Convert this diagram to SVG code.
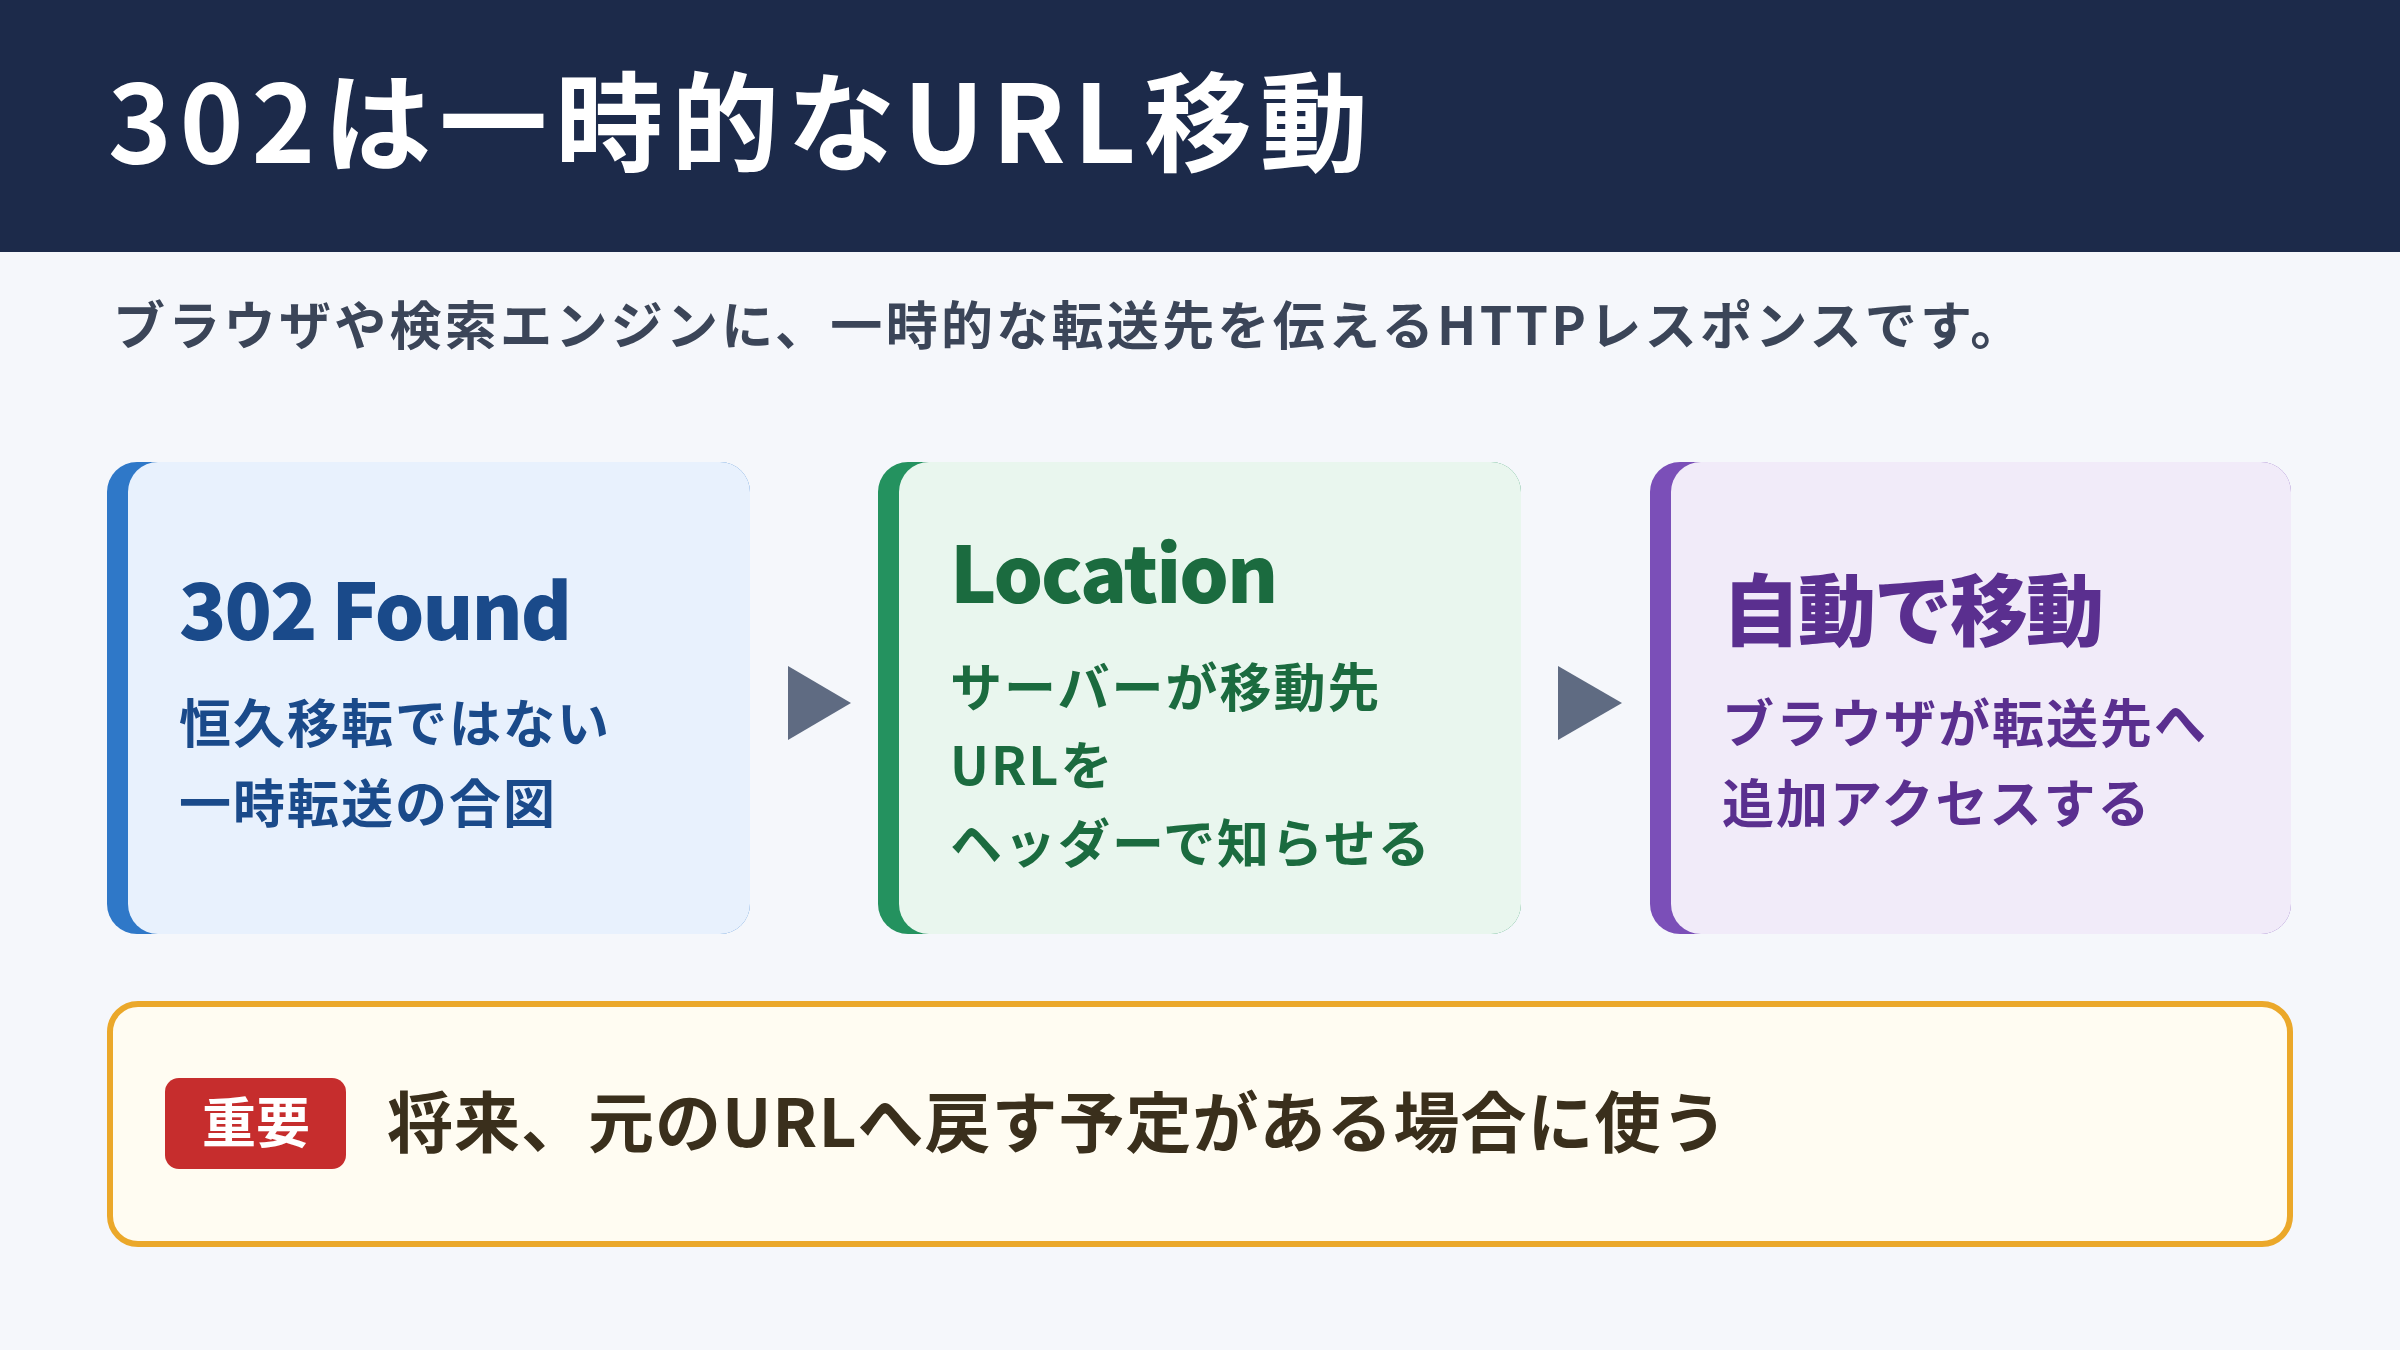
<svg xmlns="http://www.w3.org/2000/svg" width="2400" height="1350" viewBox="0 0 2400 1350">
<style>
text{font-family:"Noto Sans CJK JP","Noto Sans",sans-serif;font-weight:700}
.t{font-size:78px;font-weight:900;letter-spacing:-2px}
.b{font-size:52px;letter-spacing:2px}
</style>
<rect width="2400" height="1350" fill="#f5f7fb"/>
<rect width="2400" height="252" fill="#1c2a4a"/>
<text x="108" y="163" font-size="108" fill="#fff" font-weight="900" letter-spacing="8">302は一時的なURL移動</text>
<text x="113" y="345" font-size="52" fill="#3b4558" letter-spacing="3.3">ブラウザや検索エンジンに、一時的な転送先を伝えるHTTPレスポンスです。</text>
<g id="card1">
<rect x="107" y="462" width="643" height="472" rx="30" fill="#2f78c8"/>
<rect x="128" y="462" width="622" height="472" rx="30" fill="#e8f1fd"/>
<text x="179" y="640" class="t" fill="#1a4a8a">302 Found</text>
<text x="179" y="743" class="b" fill="#1a4a8a">恒久移転ではない</text>
<text x="179" y="823" class="b" fill="#1a4a8a">一時転送の合図</text>
</g>
<g id="card2">
<rect x="878" y="462" width="643" height="472" rx="30" fill="#24925f"/>
<rect x="899" y="462" width="622" height="472" rx="30" fill="#e9f6ee"/>
<text x="950" y="603" class="t" fill="#1b6b3f">Location</text>
<text x="950" y="707" class="b" fill="#1b6b3f">サーバーが移動先</text>
<text x="950" y="785" class="b" fill="#1b6b3f">URLを</text>
<text x="950" y="863" class="b" fill="#1b6b3f">ヘッダーで知らせる</text>
</g>
<g id="card3">
<rect x="1650" y="462" width="641" height="472" rx="30" fill="#7b4fb8"/>
<rect x="1671" y="462" width="620" height="472" rx="30" fill="#f1ebf9"/>
<text x="1722" y="640" class="t" fill="#5a2f8f">自動で移動</text>
<text x="1722" y="743" class="b" fill="#5a2f8f">ブラウザが転送先へ</text>
<text x="1722" y="823" class="b" fill="#5a2f8f">追加アクセスする</text>
</g>
<g id="connectors" fill="#5f6b82">
<polygon points="788,666 851,703 788,740"/>
<polygon points="1558,666 1622,703 1558,740"/>
</g>
<g id="note">
<rect x="110" y="1004" width="2180" height="240" rx="28" fill="#fffcf2" stroke="#eba82a" stroke-width="6"/>
<rect x="165" y="1078" width="181" height="91" rx="14" fill="#c62d2d"/>
<text x="256" y="1143" font-size="54" fill="#fff" text-anchor="middle">重要</text>
<text x="387" y="1147" font-size="66" fill="#3a2f1c" letter-spacing="1">将来、元のURLへ戻す予定がある場合に使う</text>
</g>
</svg>
